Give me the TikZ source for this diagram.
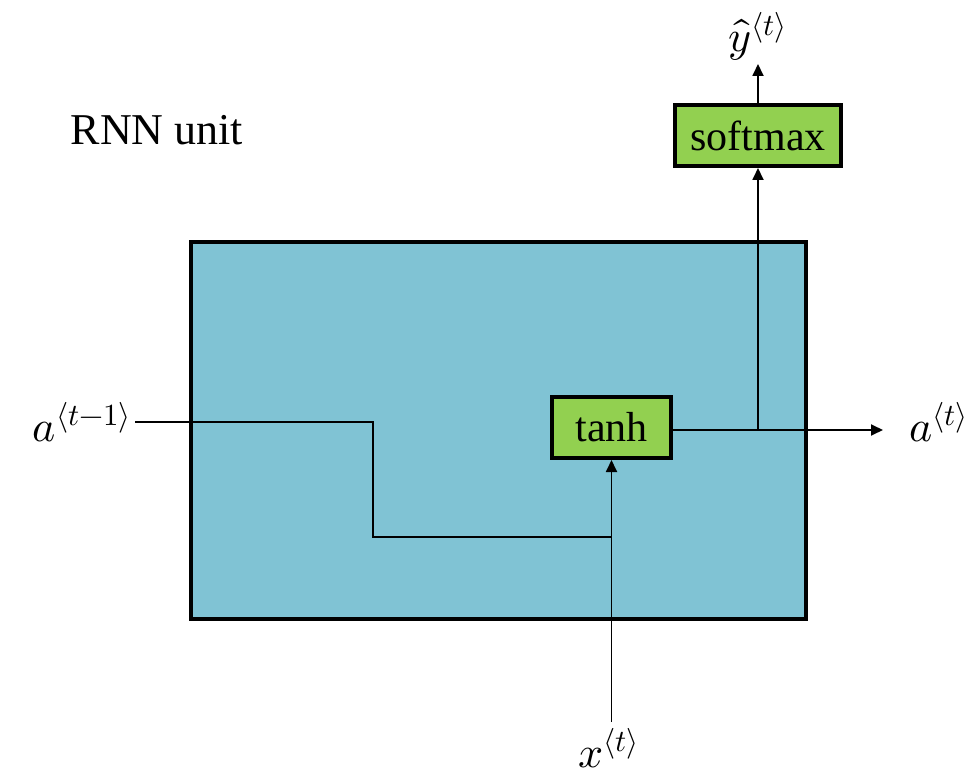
\documentclass[tikz,border=0pt]{standalone}
\usepackage{fontspec}
\usepackage{unicode-math}
\setmainfont{Liberation Serif}
\setmathfont{Latin Modern Math}
\usetikzlibrary{arrows.meta}
\definecolor{cellblue}{RGB}{128,195,212}
\definecolor{gategreen}{RGB}{146,208,80}
\begin{document}
\begin{tikzpicture}[x=1pt,y=-1pt,
  gate/.style={draw=black, line width=4pt, fill=gategreen, inner sep=0pt,
    font=\fontsize{42}{48}\selectfont},
  conn/.style={draw=black, line width=1.8pt},
  arr/.style={conn, -{Triangle[length=12pt,width=11pt]}},
  lbl/.style={inner sep=0pt, font=\fontsize{44}{50}\selectfont}]
\useasboundingbox (0,0) rectangle (977,775);
\node[draw=black, line width=4pt, fill=cellblue, minimum width=615pt, minimum height=377pt, inner sep=0pt] (cell) at (498.5,430.5) {};
\node[inner sep=0pt, font=\fontsize{44}{50}\selectfont] (title) at (157,130) {RNN unit};
\node[gate, minimum width=119pt, minimum height=61pt] (tanh) at (611.5,427.5) {tanh};
\node[gate, minimum width=166pt, minimum height=61pt] (softmax) at (758,135.5) {softmax};
\node[lbl] (aprev) at (82,422) {$a^{\langle t-1\rangle}$};
\node[lbl] (anext) at (939,422) {$a^{\langle t\rangle}$};
\node[lbl] (xin) at (609,748) {$x^{\langle t\rangle}$};
\node[lbl] (yhat) at (758,36) {$\hat{y}^{\langle t\rangle}$};
\coordinate (ain) at (135,422);
\coordinate (bend) at (373,422);
\coordinate (join) at (611.5,537);
\coordinate (xstart) at (611.5,722);
\coordinate (aend) at (883,430);
\coordinate (ytop) at (758,64);
\draw[conn] (ain) -- (bend) |- (join);
\draw[arr] (xstart) -- (tanh.south);
\draw[arr] (tanh.east |- aend) -- (aend);
\draw[arr] (softmax.south |- aend) -- (softmax.south);
\draw[arr] (softmax.north) -- (ytop);
\end{tikzpicture}
\end{document}
